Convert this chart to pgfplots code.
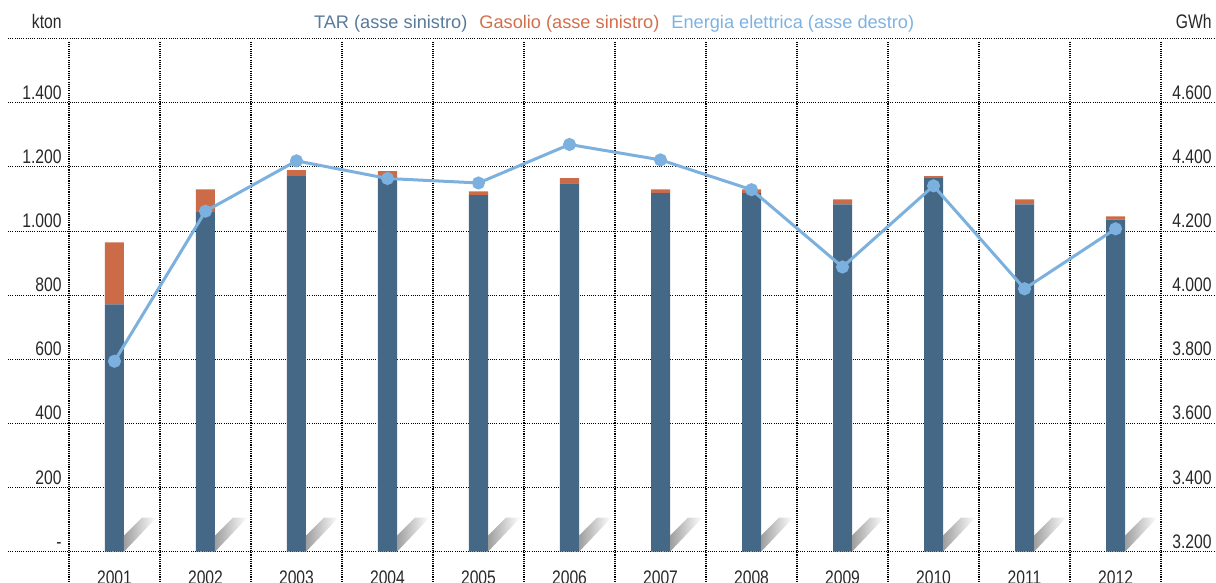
\documentclass[border=0pt]{standalone}
\usepackage{pgfplots}
\pgfplotsset{compat=1.18}
\usepackage{fontspec}
\setmainfont{Liberation Sans}[FakeStretch=0.8]
\newfontfamily\legfont{Liberation Sans}
\definecolor{tar}{RGB}{70,104,135}
\definecolor{gas}{RGB}{203,107,71}
\definecolor{ele}{RGB}{124,176,222}
\definecolor{tarleg}{RGB}{88,122,155}
\definecolor{gasleg}{RGB}{210,110,75}
\definecolor{eleleg}{RGB}{125,178,225}
\definecolor{txt}{RGB}{40,40,40}
\tikzset{griddot/.style={black, line width=0.55pt, dash pattern=on 0.55pt off 0.55pt}}
\newcommand\lbl{\fontsize{9.8pt}{11pt}\selectfont}

\begin{document}
\begin{tikzpicture}
\useasboundingbox (-4pt,-15.65pt) rectangle (604pt,275.85pt);
% asse sinistro: kton
\begin{axis}[
    scale only axis, width=604pt, height=256.5pt,
    xmin=-1.170, xmax=12.104, ymin=0, ymax=1600,
    axis line style={draw=none}, tick style={draw=none},
    ybar stacked, bar width=0.209,
    ytick={0,200,...,1600},
    yticklabels={-,200,400,600,800,1.000,1.200,1.400,},
    ymajorgrids, major grid style={griddot},
    xtick={0,...,11},
    xticklabels={2001,2002,2003,2004,2005,2006,2007,2008,2009,2010,2011,2012},
    yticklabel style={anchor=base east, inner sep=0pt, xshift=27pt, yshift=1.75pt, font=\lbl, text=txt},
    xticklabel style={anchor=base, inner sep=0pt, yshift=-16.6pt, font=\lbl, text=txt},
    clip=false]
  % ombre decorative ai piedi delle barre
  \pgfplotsinvokeforeach{0,...,11}{
    \shade[left color=black!38, right color=white]
      (axis cs:{#1+0.1045},0) -- (axis cs:{#1+0.1045},50)
      -- (axis cs:{#1+0.302},106) -- (axis cs:{#1+0.46},106) -- cycle;
  }
  % separatori verticali tra gli anni
  \pgfplotsinvokeforeach{0,...,12}{
    \draw[griddot] (axis cs:{#1-0.5},1590) -- (axis cs:{#1-0.5},-120);
  }
  \addplot[fill=tar, draw=none] coordinates {
    (0,771) (1,1059) (2,1171) (3,1169) (4,1112) (5,1149)
    (6,1118) (7,1118) (8,1083) (9,1165) (10,1083) (11,1036)};
  \addplot[fill=gas, draw=none] coordinates {
    (0,194) (1,71) (2,19) (3,18) (4,12) (5,16)
    (6,12) (7,12) (8,16) (9,6) (10,16) (11,10)};
  \node[anchor=base east, inner sep=0pt, font=\lbl, text=txt] at (axis cs:-0.577,1633) {kton};
  \node[anchor=base, inner sep=0pt, font=\legfont\fontsize{9.1pt}{11pt}\selectfont] at (axis cs:5.49,1633)
    {\textcolor{tarleg}{TAR (asse sinistro)}\hspace{6pt}\textcolor{gasleg}{Gasolio (asse sinistro)}\hspace{6pt}\textcolor{eleleg}{Energia elettrica (asse destro)}};
\end{axis}
% asse destro: GWh
\begin{axis}[
    scale only axis, width=604pt, height=256.5pt,
    xmin=-1.170, xmax=12.104, ymin=3200, ymax=4800,
    axis line style={draw=none}, tick style={draw=none},
    xtick=\empty,
    ytick={3200,3400,...,4600},
    yticklabels={3.200,3.400,3.600,3.800,4.000,4.200,4.400,4.600},
    yticklabel pos=right,
    yticklabel style={anchor=base east, inner sep=0pt, xshift=-2pt, yshift=1.75pt, font=\lbl, text=txt},
    clip=false]
  \addplot[ele, line width=1.5pt, mark=*, mark size=2.5pt, mark options={fill=ele, draw=ele}] coordinates {
    (0,3794) (1,4262) (2,4419) (3,4364) (4,4350) (5,4470)
    (6,4422) (7,4329) (8,4088) (9,4341) (10,4020) (11,4207)};
  \node[anchor=base east, inner sep=0pt, font=\lbl, text=txt] at (axis cs:12.06,4833) {GWh};
\end{axis}
\end{tikzpicture}
\end{document}
